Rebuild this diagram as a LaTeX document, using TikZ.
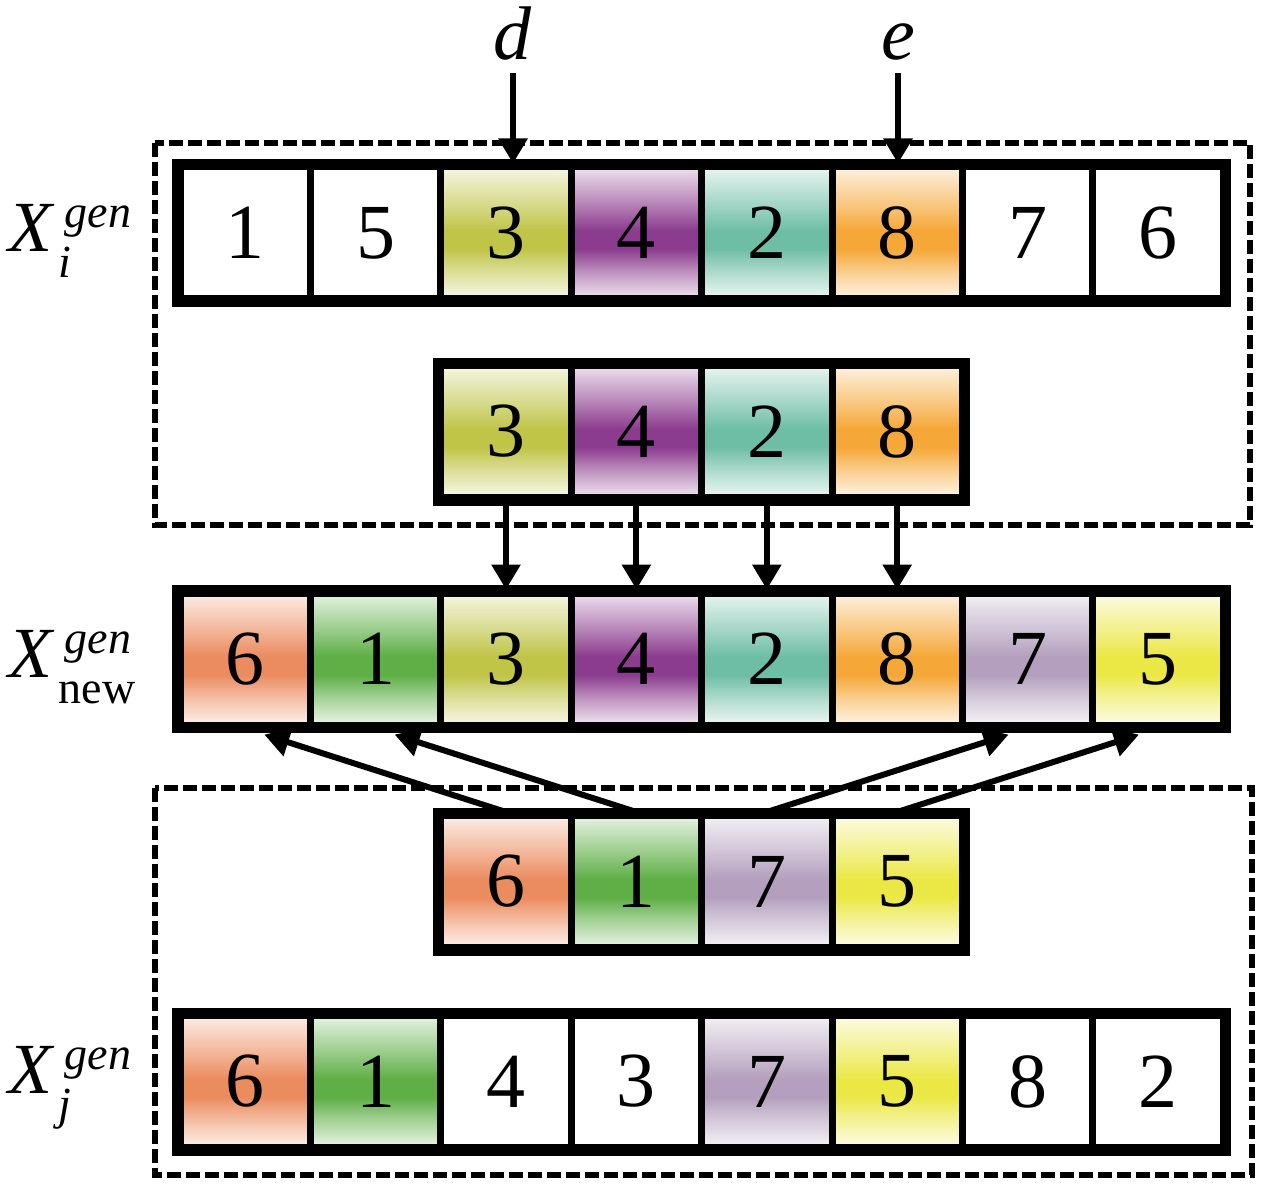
\documentclass[tikz,border=0pt]{standalone}
\usepackage{fontspec}
\setmainfont{Liberation Serif}
\usepackage{tikz}
\usetikzlibrary{arrows.meta}
\definecolor{gene1}{RGB}{95,175,70}
\definecolor{gene2}{RGB}{110,190,165}
\definecolor{gene3}{RGB}{192,197,72}
\definecolor{gene4}{RGB}{140,60,142}
\definecolor{gene5}{RGB}{235,232,70}
\definecolor{gene6}{RGB}{235,140,95}
\definecolor{gene7}{RGB}{180,160,190}
\definecolor{gene8}{RGB}{245,168,55}
\colorlet{genecol}{white}
\pgfdeclareverticalshading[genecol]{geneband}{100bp}{color(0bp)=(genecol!12); color(25bp)=(genecol!12); color(35bp)=(genecol!55); color(44bp)=(genecol); color(51bp)=(genecol); color(62bp)=(genecol!60); color(75bp)=(genecol!15); color(100bp)=(genecol!15)}
\newcommand{\lblsmall}{\fontsize{23}{27}\selectfont}
\newcommand{\genlabel}[1]{\textit{X}\makebox[0pt][l]{\kern5pt\raisebox{12pt}{\lblsmall\textit{gen}}}\kern2pt\raisebox{-13pt}{\lblsmall #1}}
\tikzset{%
  gene/.style={
    draw,
    line width=3.5pt,
    minimum width=65.2pt,
    minimum height=66pt,
    inner sep=0pt,
    shading=geneband,
    font=\fontsize{39}{46}\selectfont
  },
  tint/.code={\colorlet{genecol}{#1}},
  rowframe/.style={line width=4.5pt},
  group box/.style={line width=3pt, dash pattern=on 7pt off 2.5pt},
  arr/.style={line width=3pt, -{Triangle[length=12.5pt,width=14pt]}},
  tag/.style={inner sep=0pt, font=\fontsize{36}{42}\selectfont},
}

\begin{document}
\begin{tikzpicture}[x=0.5pt, y=-0.5pt]
\useasboundingbox (0,0) rectangle (1261,1187);
\draw[group box] (155,143) rectangle (1250,525);
\draw[group box] (155,788) rectangle (1252,1175);

    % parent i
    \foreach \n/\t [count=\c] in {1/white,5/white,3/gene3,4/gene4,2/gene2,8/gene8,7/white,6/white}
        \node[gene, tint=\t] (cell_1_\c) at ({180+130.4*(\c-0.5)},233){\n};
    % cut segment
    \foreach \n [count=\c] in {3,4,2,8}
        \node[gene, tint=gene\n] (cell_2_\c) at ({180+130.4*(\c+1.5)},431.5){\n};
    % offspring
    \foreach \n [count=\c] in {6,1,3,4,2,8,7,5}
        \node[gene, tint=gene\n] (cell_3_\c) at ({180+130.4*(\c-0.5)},659){\n};
    % kept genes of j
    \foreach \n [count=\c] in {6,1,7,5}
        \node[gene, tint=gene\n] (cell_4_\c) at ({180+130.4*(\c+1.5)},881.5){\n};
    % parent j
    \foreach \n/\t [count=\c] in {6/gene6,1/gene1,4/white,3/white,7/gene7,5/gene5,8/white,2/white}
        \node[gene, tint=\t] (cell_5_\c) at ({180+130.4*(\c-0.5)},1081.5){\n};

    \foreach \r/\b in {1/8,2/4,3/8,4/4,5/8}
        \draw[rowframe] (cell_\r_1.north west) rectangle (cell_\r_\b.south east);

    \node[tag, anchor=base west] (lbl_i) at (8,252){\genlabel{\textit{i}}};
    \node[tag, anchor=base west] (lbl_new) at (8,677){\genlabel{new}};
    \node[tag, anchor=base west] (lbl_j) at (8,1093){\genlabel{\textit{j}}};

    \node[tag, inner sep=6pt, anchor=base, font=\fontsize{38}{44}\selectfont] (d) at (513,60){\textit{d}};
    \node[tag, inner sep=6pt, anchor=base, font=\fontsize{38}{44}\selectfont] (e) at (898,60){\textit{e}};

    \draw[arr] (d) -- (d |- cell_1_3.north);
    \draw[arr] (e) -- (e |- cell_1_6.north);
    \foreach \a/\b in {1/3,2/4,3/5,4/6}
        \draw[arr] (cell_2_\a) -- (cell_3_\b);
    \foreach \a/\b in {1/1,2/2,3/7,4/8}
        \draw[arr, shorten >=10pt] (cell_4_\a.north) -- (cell_3_\b.south);
\end{tikzpicture}
\end{document}
